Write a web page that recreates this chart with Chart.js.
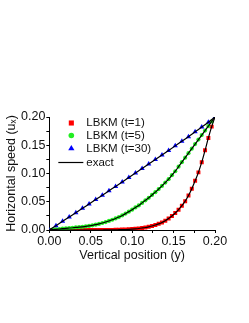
<!DOCTYPE html>
<html>
<head>
<meta charset="utf-8">
<script src="https://cdn.jsdelivr.net/npm/chart.js@4.4.0/dist/chart.umd.min.js"></script>
<style>
  body { margin: 0; background: #fff; }
</style>
</head>
<body>
<canvas id="grafico" width="249" height="323"></canvas>
<script>
// posicoes (y) e velocidades (ux)
const posFine = [0,0.004,0.008,0.012,0.016,0.02,0.024,0.028,0.032,0.036,0.04,0.044,0.048,0.052,0.056,0.06,0.064,0.068,0.072,0.076,0.08,0.084,0.088,0.092,0.096,0.1,0.104,0.108,0.112,0.116,0.12,0.124,0.128,0.132,0.136,0.14,0.144,0.148,0.152,0.156,0.16,0.164,0.168,0.172,0.176,0.18,0.184,0.188,0.192,0.196,0.2];
const uT1 = [0,0,0,0,0,0,0,0,0,0,0,0,0,0,0,0,0,0.0001,0.0001,0.0002,0.0003,0.0005,0.0007,0.0009,0.0012,0.0016,0.0021,0.0027,0.0035,0.0044,0.0056,0.007,0.0088,0.0109,0.0134,0.0165,0.0203,0.0248,0.03,0.036,0.043,0.051,0.061,0.073,0.087,0.102,0.12,0.141,0.163,0.183,0.2];
const uT5 = [0,0.0006,0.0012,0.0018,0.0024,0.003,0.0035,0.004,0.0045,0.005,0.0056,0.0063,0.0072,0.0082,0.0094,0.0108,0.0124,0.0141,0.016,0.0181,0.0204,0.0229,0.0258,0.029,0.0325,0.036,0.04,0.0435,0.048,0.0525,0.057,0.062,0.067,0.0725,0.078,0.084,0.09,0.097,0.104,0.112,0.12,0.128,0.136,0.144,0.152,0.16,0.168,0.176,0.184,0.192,0.2];
const posCoarse = [0,0.008,0.016,0.024,0.032,0.04,0.048,0.056,0.064,0.072,0.08,0.088,0.096,0.104,0.112,0.12,0.128,0.136,0.144,0.152,0.16,0.168,0.176,0.184,0.192,0.2];
const uT30 = [0,0.0076,0.0153,0.023,0.0307,0.0384,0.0461,0.0538,0.0616,0.0694,0.0772,0.085,0.0929,0.1008,0.1087,0.1167,0.1247,0.1327,0.1408,0.1489,0.157,0.1652,0.1738,0.1822,0.1908,0.2];
const legendas = ['LBKM (t=1)', 'LBKM (t=5)', 'LBKM (t=30)', 'exact'];

function pontos(xs, ys) {
  return xs.map((x, i) => ({x: x, y: ys[i]}));
}

function linhaExata(xs, ys) {
  return {
    label: 'exact', data: pontos(xs, ys), showLine: true,
    borderColor: '#000', borderWidth: 1.2, pointRadius: 0,
    cubicInterpolationMode: 'monotone', fill: false
  };
}

// legenda desenhada dentro da area do grafico
const legendaDentro = {
  id: 'legendaDentro',
  afterDraw(chart) {
    const ctx = chart.ctx;
    const a = chart.chartArea;
    const x0 = a.left + 22, tx = a.left + 37;
    const ys = [a.top + 6, a.top + 18.5, a.top + 31.5, a.top + 45.5];
    const estilos = [
      {pointStyle: 'rect', radius: 3.6, color: '#ff0000'},
      {pointStyle: 'circle', radius: 2.8, color: '#22ee22'},
      {pointStyle: 'triangle', radius: 3.6, color: '#0000ff'}
    ];
    ctx.save();
    estilos.forEach((e, i) => {
      ctx.fillStyle = e.color;
      ctx.strokeStyle = e.color;
      Chart.helpers.drawPoint(ctx, {pointStyle: e.pointStyle, radius: e.radius, rotation: 0, borderWidth: 0}, x0, ys[i]);
    });
    ctx.strokeStyle = '#000';
    ctx.lineWidth = 1.2;
    ctx.beginPath();
    ctx.moveTo(a.left + 9, ys[3]);
    ctx.lineTo(a.left + 34, ys[3]);
    ctx.stroke();
    ctx.fillStyle = '#111';
    ctx.font = '11.5px "Liberation Sans", Arial, sans-serif';
    ctx.textBaseline = 'middle';
    legendas.forEach((t, i) => ctx.fillText(t, tx, ys[i]));
    ctx.restore();
  }
};

const eixo = {
  type: 'linear', min: 0, max: 0.2,
  border: {display: true, color: '#000', width: 1},
  grid: {display: true, drawOnChartArea: false, drawTicks: true, tickLength: 3, color: '#000'},
  ticks: {
    stepSize: 0.025, color: '#111', padding: 1, autoSkip: false,
    maxRotation: 0, minRotation: 0,
    font: {family: '"Liberation Sans", Arial, sans-serif', size: 12.5},
    callback: v => (Math.round(v * 1000) % 50 === 0 ? v.toFixed(2) : '')
  }
};

new Chart(document.getElementById('grafico'), {
  type: 'scatter',
  data: {
    datasets: [
      linhaExata(posFine, uT1),
      linhaExata(posFine, uT5),
      linhaExata(posCoarse, uT30),
      {label: legendas[2], data: pontos(posCoarse, uT30), pointStyle: 'triangle', pointRadius: 3, backgroundColor: '#0000ff', borderWidth: 0},
      {label: legendas[1], data: pontos(posFine, uT5), pointStyle: 'circle', pointRadius: 2.1, backgroundColor: '#22ee22', borderWidth: 0},
      {label: legendas[0], data: pontos(posFine, uT1), pointStyle: 'rect', pointRadius: 2.8, backgroundColor: '#ff0000', borderWidth: 0}
    ]
  },
  options: {
    responsive: false,
    animation: false,
    devicePixelRatio: 1,
    layout: {padding: {top: 117, left: 4, right: 34, bottom: 60}},
    plugins: {legend: {display: false}, tooltip: {enabled: false}},
    scales: {
      x: Object.assign({}, eixo, {
        title: {display: true, text: 'Vertical position (y)', color: '#111', padding: {top: -2, bottom: 0},
                font: {family: '"Liberation Sans", Arial, sans-serif', size: 12.5}}
      }),
      y: Object.assign({}, eixo, {
        title: {display: true, text: 'Horizontal speed (uₓ)', color: '#111', padding: {top: 0, bottom: 1},
                font: {family: '"Liberation Sans", Arial, sans-serif', size: 12.5}}
      })
    }
  },
  plugins: [legendaDentro]
});
</script>
</body>
</html>
